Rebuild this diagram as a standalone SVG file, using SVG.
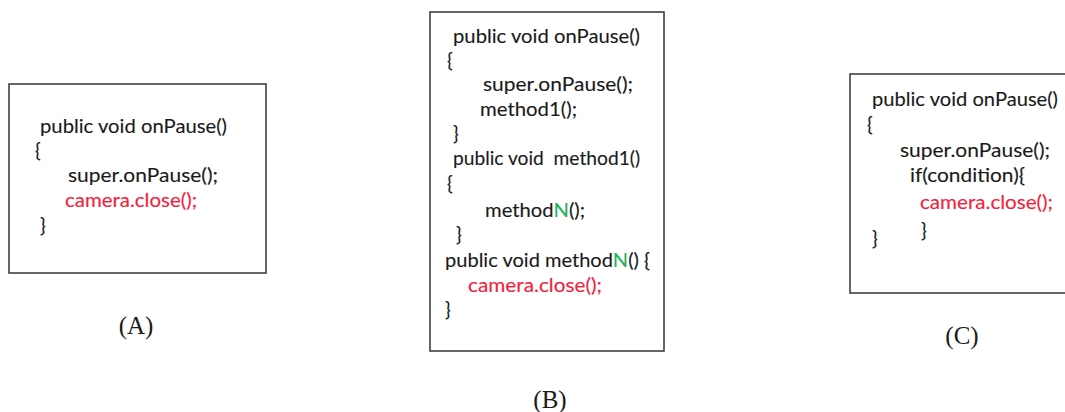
<svg xmlns="http://www.w3.org/2000/svg" width="1065" height="412" viewBox="0 0 1065 412">
  <style>
    .box { fill: #ffffff; stroke: #333333; stroke-width: 1.5; }
    .code { font-family: Lato, "Open Sans", "Liberation Sans", sans-serif; font-size: 19px; fill: #1a1a1a; stroke: #1a1a1a; stroke-width: 0.12; }
    .red { fill: #f5213a; stroke: #f5213a; }
    .green { fill: #1fb35a; stroke: #1fb35a; }
    .cap { font-family: "Liberation Serif", "DejaVu Serif", serif; font-size: 25px; fill: #1a1a1a; text-anchor: middle; }
  </style>
  <rect width="1065" height="412" fill="#ffffff"/>

  <!-- Panel A: direct close in onPause -->
  <g id="panel-a">
    <rect class="box" x="9" y="84" width="257" height="189"/>
    <text class="code" x="40" y="133" textLength="187" lengthAdjust="spacingAndGlyphs">public void onPause()</text>
    <text class="code" x="35" y="157">{</text>
    <text class="code" x="68" y="182" textLength="150" lengthAdjust="spacingAndGlyphs">super.onPause();</text>
    <text class="code red" x="65" y="207" textLength="132" lengthAdjust="spacingAndGlyphs">camera.close();</text>
    <text class="code" x="40" y="232">}</text>
  </g>
  <text id="label-a" class="cap" x="136" y="334">(A)</text>

  <!-- Panel B: close reached through a call chain -->
  <g id="panel-b">
    <rect class="box" x="430" y="12" width="234" height="339"/>
    <text class="code" x="453" y="43" textLength="187" lengthAdjust="spacingAndGlyphs">public void onPause()</text>
    <text class="code" x="447" y="67">{</text>
    <text class="code" x="483" y="91" textLength="150" lengthAdjust="spacingAndGlyphs">super.onPause();</text>
    <text class="code" x="480" y="116" textLength="97" lengthAdjust="spacingAndGlyphs">method1();</text>
    <text class="code" x="453" y="140">}</text>
    <text class="code" x="453" y="165" textLength="187" lengthAdjust="spacingAndGlyphs" xml:space="preserve">public void  method1()</text>
    <text class="code" x="447" y="190">{</text>
    <text class="code" x="485" y="217" textLength="100" lengthAdjust="spacingAndGlyphs">method<tspan class="green">N</tspan>();</text>
    <text class="code" x="456" y="241">}</text>
    <text class="code" x="445" y="267" textLength="205" lengthAdjust="spacingAndGlyphs">public void method<tspan class="green">N</tspan>() {</text>
    <text class="code red" x="468" y="292" textLength="134" lengthAdjust="spacingAndGlyphs">camera.close();</text>
    <text class="code" x="445" y="316">}</text>
  </g>
  <text id="label-b" class="cap" x="550" y="408">(B)</text>

  <!-- Panel C: conditional close -->
  <g id="panel-c">
    <rect class="box" x="850" y="74" width="230" height="219"/>
    <text class="code" x="872" y="106" textLength="186" lengthAdjust="spacingAndGlyphs">public void onPause()</text>
    <text class="code" x="867" y="131">{</text>
    <text class="code" x="900" y="157" textLength="150" lengthAdjust="spacingAndGlyphs">super.onPause();</text>
    <text class="code" x="910" y="182" textLength="115" lengthAdjust="spacingAndGlyphs">if(condition){</text>
    <text class="code red" x="920" y="209" textLength="133" lengthAdjust="spacingAndGlyphs">camera.close();</text>
    <text class="code" x="921" y="237">}</text>
    <text class="code" x="872" y="245">}</text>
  </g>
  <text id="label-c" class="cap" x="962" y="344">(C)</text>
</svg>
